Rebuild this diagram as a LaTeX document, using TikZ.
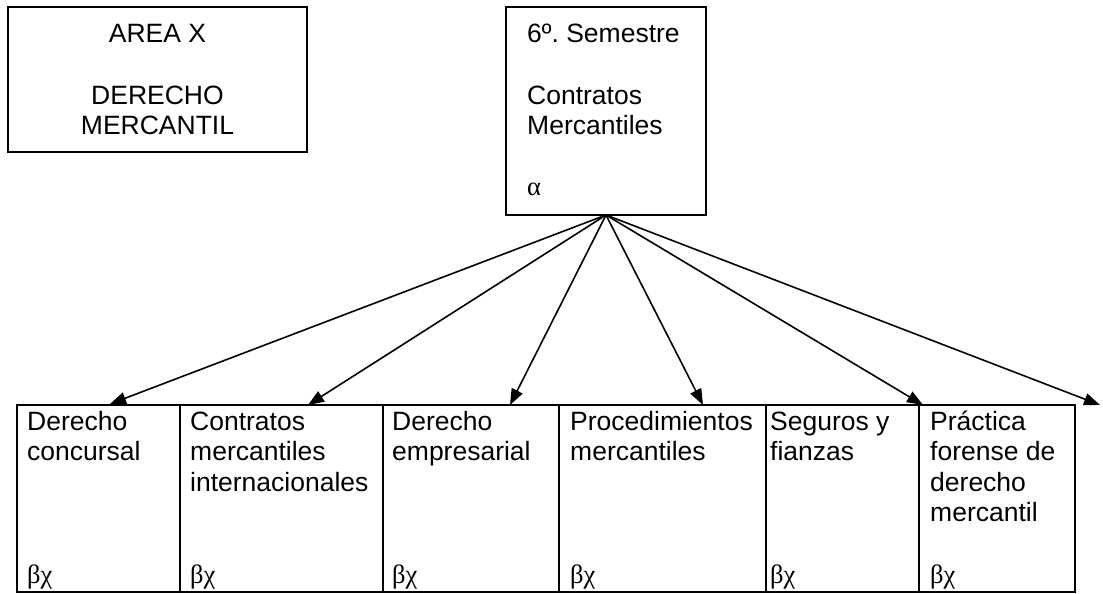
\documentclass[tikz,border=0pt]{standalone}
\usepackage{fontspec}
\setmainfont{Liberation Sans}
\newfontfamily\grk{Liberation Serif}
\frenchspacing
\usetikzlibrary{arrows.meta}
\newcommand\rowsL[1]{\begin{tabular}[t]{@{}l@{}}#1\end{tabular}}
\newcommand\rowsC[1]{\begin{tabular}[t]{@{}c@{}}#1\end{tabular}}
\newcommand\bc{{\grk βχ}}
\begin{document}
\begin{tikzpicture}[x=1pt,y=-1pt,
  box/.style={draw,line width=2pt,inner sep=0pt,outer sep=0pt},
  txt/.style={inner sep=0pt,anchor=base west,font=\fontsize{26.5}{30.6}\selectfont},
  ctxt/.style={txt,anchor=base},
  arr/.style={line width=1.6pt,-{Triangle[length=16pt,width=12pt]}}]
\useasboundingbox (0,0) rectangle (1103,594);
% top boxes
\node[box,minimum width=299pt,minimum height=145pt] (area) at (157.5,79.5) {};
\node[box,minimum width=200pt,minimum height=208pt] (mid) at (606,111) {};
\node[ctxt] (areat) at (157.5,43) {\rowsC{AREA X\\ \\DERECHO\\MERCANTIL}};
\node[txt] (midt) at (527,43) {\rowsL{6º. Semestre\\ \\Contratos\\Mercantiles\\ \\{\grk α}}};
% bottom boxes
\node[box,minimum width=163pt,minimum height=187pt] (b1) at (98.5,498.5) {};
\node[box,minimum width=203pt,minimum height=187pt] (b2) at (281.5,498.5) {};
\node[box,minimum width=176pt,minimum height=187pt] (b3) at (471,498.5) {};
\node[box,minimum width=207pt,minimum height=187pt] (b4) at (662.5,498.5) {};
\node[box,minimum width=153pt,minimum height=187pt] (b5) at (842.5,498.5) {};
\node[box,minimum width=156pt,minimum height=187pt] (b6) at (997,498.5) {};
\node[txt] (t1) at (27,430) {\rowsL{Derecho\\concursal\\ \\ \\ \\\bc}};
\node[txt] (t2) at (190,430) {\rowsL{Contratos\\mercantiles\\internacionales\\ \\ \\\bc}};
\node[txt] (t3) at (392,430) {\rowsL{Derecho\\empresarial\\ \\ \\ \\\bc}};
\node[txt] (t4) at (570,430) {\rowsL{Procedimientos\\mercantiles\\ \\ \\ \\\bc}};
\node[txt] (t5) at (770,430) {\rowsL{Seguros y\\fianzas\\ \\ \\ \\\bc}};
\node[txt] (t6) at (930,430) {\rowsL{Práctica\\forense de\\derecho\\mercantil\\ \\\bc}};
% arrow ends
\coordinate (e1) at (110,404);
\coordinate (e2) at (308,405);
\coordinate (e3) at (510,405);
\coordinate (e4) at (703,405);
\coordinate (e5) at (923,405);
\coordinate (e6) at (1100,405);
\foreach \i in {1,...,6} \draw[arr] (mid.south) -- (e\i);
\end{tikzpicture}
\end{document}
